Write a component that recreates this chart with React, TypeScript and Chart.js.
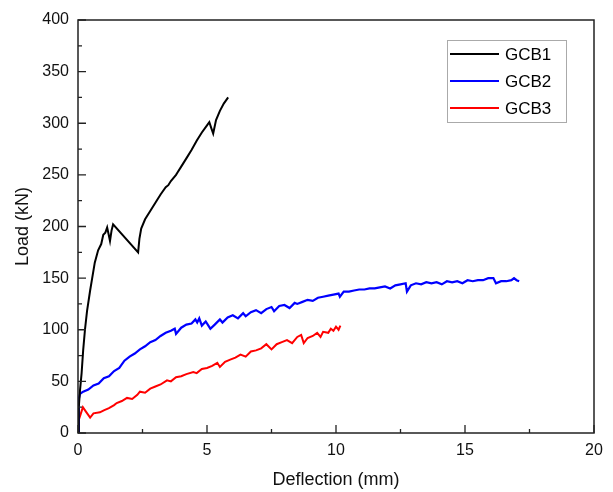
import React, { useEffect, useRef } from "react";
import { Chart, registerables } from "chart.js";

Chart.register(...registerables);

const seriesNames = ["GCB1", "GCB2", "GCB3"];
const seriesColors = ["#000000", "#0000ff", "#ff0000"];

const gcb1X = [0, 0.03, 0.08, 0.14, 0.2, 0.27, 0.35, 0.47, 0.55, 0.65, 0.78, 0.9, 0.98, 1.06, 1.13, 1.19, 1.24, 1.3, 1.36, 2.33, 2.38, 2.45, 2.6, 2.8, 3.0, 3.2, 3.4, 3.5, 3.6, 3.8, 3.85, 4.0, 4.2, 4.4, 4.6, 4.8, 5.0, 5.09, 5.17, 5.24, 5.35, 5.5, 5.65, 5.82];
const gcb1Y = [0, 25, 42, 58, 80, 100, 118, 138, 150, 165, 177, 183, 192, 194, 199, 192, 186, 196, 202, 175, 188, 198, 207, 215, 223, 231, 238, 240, 244, 250, 252, 258, 266, 274, 283, 291, 298, 301, 295, 290, 303, 312, 319, 325];

const gcb2X = [0, 0.03, 0.08, 0.2, 0.4, 0.6, 0.8, 1.0, 1.2, 1.4, 1.6, 1.8, 2.0, 2.2, 2.4, 2.6, 2.8, 3.0, 3.2, 3.4, 3.6, 3.75, 3.8, 4.0, 4.2, 4.4, 4.55, 4.62, 4.7, 4.8, 4.95, 5.13, 5.3, 5.5, 5.6, 5.8, 6.0, 6.2, 6.4, 6.5, 6.7, 6.9, 7.1, 7.3, 7.5, 7.6, 7.8, 8.0, 8.2, 8.4, 8.5, 8.7, 8.9, 9.1, 9.3, 9.5, 9.7, 9.9, 10.1, 10.15, 10.3, 10.5, 10.7, 10.9, 11.1, 11.3, 11.5, 11.7, 11.9, 12.1, 12.3, 12.5, 12.7, 12.75, 12.9, 13.1, 13.3, 13.5, 13.7, 13.9, 14.1, 14.3, 14.5, 14.7, 14.9, 15.1, 15.3, 15.5, 15.7, 15.9, 16.1, 16.2, 16.4, 16.6, 16.8, 16.9, 17.0, 17.1];
const gcb2Y = [0, 33, 38, 40, 42, 46, 48, 53, 55, 60, 63, 70, 74, 77, 81, 84, 88, 90, 94, 97, 99, 101, 96, 102, 105, 106, 110, 107, 111, 104, 108, 101, 105, 110, 107, 112, 114, 111, 116, 113, 117, 119, 116, 120, 122, 118, 123, 124, 121, 126, 125, 127, 129, 128, 131, 132, 133, 134, 135, 132, 137, 137, 138, 139, 139, 140, 140, 141, 142, 140, 143, 144, 145, 137, 143, 145, 144, 146, 145, 146, 144, 147, 146, 147, 145, 148, 147, 148, 148, 150, 150, 145, 147, 147, 148, 150, 148, 147];

const gcb3X = [0, 0.02, 0.1, 0.19, 0.3, 0.47, 0.6, 0.85, 1.0, 1.2, 1.4, 1.5, 1.7, 1.9, 2.1, 2.3, 2.4, 2.6, 2.8, 3.0, 3.2, 3.45, 3.6, 3.8, 4.0, 4.2, 4.47, 4.6, 4.8, 5.0, 5.2, 5.4, 5.5, 5.7, 5.9, 6.1, 6.3, 6.5, 6.7, 6.9, 7.1, 7.3, 7.5, 7.7, 7.9, 8.1, 8.3, 8.5, 8.65, 8.75, 8.9, 9.1, 9.27, 9.4, 9.5, 9.7, 9.8, 9.9, 10.0, 10.1, 10.17];
const gcb3Y = [0, 12, 18, 25, 21, 15, 19, 20, 22, 24, 27, 29, 31, 34, 33, 37, 40, 39, 43, 45, 47, 51, 50, 54, 55, 57, 59, 58, 62, 63, 65, 68, 64, 69, 71, 73, 76, 74, 79, 80, 82, 86, 81, 86, 88, 90, 87, 93, 95, 87, 92, 94, 97, 93, 98, 97, 101, 99, 103, 100, 104];

const xTicks = [0, 5, 10, 15, 20];
const yTicks = [0, 50, 100, 150, 200, 250, 300, 350, 400];

const FONT = "'Liberation Sans', Arial, sans-serif";

const toPoints = (xs: number[], ys: number[]) => xs.map((x, i) => ({ x, y: ys[i] }));

const frameTicksPlugin = {
  id: "frameTicks",
  afterDraw(chart: any) {
    const ctx = chart.ctx;
    const { left, right, top, bottom } = chart.chartArea;
    const xs = chart.scales.x;
    const ys = chart.scales.y;
    ctx.save();
    ctx.strokeStyle = "#222";
    ctx.lineWidth = 1.5;
    ctx.strokeRect(left, top, right - left, bottom - top);
    ctx.lineWidth = 1.3;
    ctx.beginPath();
    for (let i = 0; i < xTicks.length; i++) {
      const px = xs.getPixelForValue(xTicks[i]);
      ctx.moveTo(px, bottom);
      ctx.lineTo(px, bottom - 8);
      if (i < xTicks.length - 1) {
        const mx = xs.getPixelForValue((xTicks[i] + xTicks[i + 1]) / 2);
        ctx.moveTo(mx, bottom);
        ctx.lineTo(mx, bottom - 4);
      }
    }
    for (let i = 0; i < yTicks.length; i++) {
      const py = ys.getPixelForValue(yTicks[i]);
      ctx.moveTo(left, py);
      ctx.lineTo(left + 8, py);
      if (i < yTicks.length - 1) {
        const my = ys.getPixelForValue((yTicks[i] + yTicks[i + 1]) / 2);
        ctx.moveTo(left, my);
        ctx.lineTo(left + 4, my);
      }
    }
    ctx.stroke();

    // legend
    const bx = 447, by = 40, bw = 119, bh = 82;
    ctx.strokeStyle = "#aaaaaa";
    ctx.lineWidth = 1;
    ctx.strokeRect(bx + 0.5, by + 0.5, bw, bh);
    ctx.font = `17px ${FONT}`;
    ctx.textBaseline = "middle";
    ctx.textAlign = "left";
    const rows = [54, 81, 108];
    for (let i = 0; i < seriesNames.length; i++) {
      ctx.strokeStyle = seriesColors[i];
      ctx.lineWidth = 2;
      ctx.beginPath();
      ctx.moveTo(450, rows[i]);
      ctx.lineTo(499, rows[i]);
      ctx.stroke();
      ctx.fillStyle = "#000";
      ctx.fillText(seriesNames[i], 505, rows[i] + 1);
    }
    ctx.restore();
  },
};

export default function App() {
  const ref = useRef<HTMLCanvasElement>(null);
  useEffect(() => {
    if (!ref.current) return;
    const chart = new Chart(ref.current, {
      type: "scatter",
      data: {
        datasets: [
          { label: seriesNames[0], data: toPoints(gcb1X, gcb1Y), borderColor: seriesColors[0], borderWidth: 2 },
          { label: seriesNames[1], data: toPoints(gcb2X, gcb2Y), borderColor: seriesColors[1], borderWidth: 2.2 },
          { label: seriesNames[2], data: toPoints(gcb3X, gcb3Y), borderColor: seriesColors[2], borderWidth: 2 },
        ].map((d) => ({ ...d, showLine: true, pointRadius: 0, fill: false, tension: 0 })),
      },
      plugins: [frameTicksPlugin],
      options: {
        animation: false,
        responsive: false,
        maintainAspectRatio: false,
        layout: { padding: { left: 0, right: 19, top: 20, bottom: 0 } },
        plugins: { legend: { display: false }, tooltip: { enabled: false } },
        scales: {
          x: {
            type: "linear",
            min: 0,
            max: 20,
            grid: { display: false, drawTicks: false },
            border: { display: false },
            afterFit: (s: any) => { s.height = 59; },
            afterBuildTicks: (s: any) => { s.ticks = xTicks.map((v) => ({ value: v })); },
            ticks: { padding: 8, color: "#111", font: { family: FONT, size: 16 } },
            title: { display: true, text: "Deflection (mm)", color: "#111", font: { family: FONT, size: 18 }, padding: { top: 4, bottom: 1 } },
          },
          y: {
            type: "linear",
            min: 0,
            max: 400,
            grid: { display: false, drawTicks: false },
            border: { display: false },
            afterFit: (s: any) => { s.width = 78; },
            afterBuildTicks: (s: any) => { s.ticks = yTicks.map((v) => ({ value: v })); },
            ticks: { padding: 9, color: "#111", font: { family: FONT, size: 16 } },
            title: { display: true, text: "Load (kN)", color: "#111", font: { family: FONT, size: 18 }, padding: { top: 12, bottom: 0 } },
          },
        },
      },
    } as any);
    return () => chart.destroy();
  }, []);
  return (
    <div style={{ position: "fixed", left: 0, top: 0, width: 613, height: 492, background: "#fff" }}>
      <canvas ref={ref} width={613} height={492} style={{ width: 613, height: 492 }} />
    </div>
  );
}
